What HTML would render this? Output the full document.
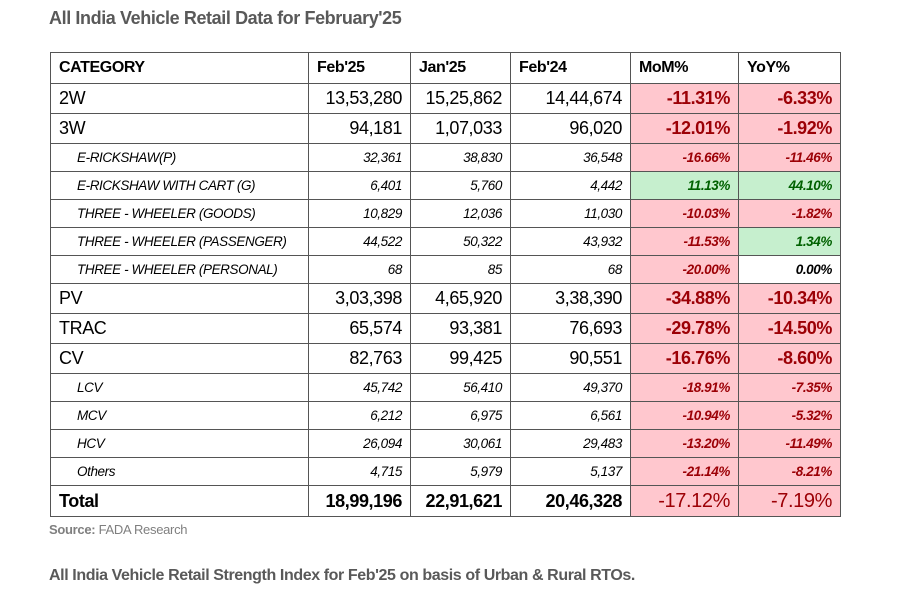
<!DOCTYPE html>
<html><head><meta charset="utf-8"><style>
body{margin:0;width:902px;height:600px;background:#fff;position:relative;overflow:hidden;font-family:"Liberation Sans",sans-serif;}
.t1{position:absolute;left:49px;top:8px;font-size:18px;font-weight:bold;color:#595959;letter-spacing:-0.4px;}
.src{position:absolute;left:49px;top:522px;font-size:13px;color:#7f7f7f;letter-spacing:-0.3px;}
.t2{position:absolute;left:49px;top:567px;font-size:16px;font-weight:bold;color:#595959;letter-spacing:-0.4px;}
table{position:absolute;left:50px;top:52px;border-collapse:collapse;table-layout:fixed;width:790px;}
td{border:1px solid #555;padding:0 8px;white-space:nowrap;overflow:hidden;text-align:right;color:#000;letter-spacing:-0.4px;}
td:first-child{text-align:left;}
tr.h td{height:30px;font-weight:bold;font-size:16px;text-align:left;}
tr.m td{height:29px;font-size:18px;}
tr.s td{height:27px;font-size:13.5px;font-style:italic;}
tr.s td:first-child{padding-left:26px;}
tr.tot td{height:30px;font-size:18px;font-weight:bold;}
.r{background:#ffc7ce;color:#9c0006;}
tr.m .r{font-weight:bold;}
tr.tot .r{font-weight:normal;font-size:20px;}
tr.s .r,tr.s .g{font-weight:bold;}
.g{background:#c6efce;color:#006100;}
table{border:1.5px solid #444;}
</style></head><body>
<div class="t1">All India Vehicle Retail Data for February'25</div>
<table>
<colgroup><col style="width:258px"><col style="width:102px"><col style="width:100px"><col style="width:120px"><col style="width:108px"><col style="width:102px"></colgroup>
<tr class="h"><td>CATEGORY</td><td>Feb'25</td><td>Jan'25</td><td>Feb'24</td><td>MoM%</td><td>YoY%</td></tr>
<tr class="m"><td>2W</td><td>13,53,280</td><td>15,25,862</td><td>14,44,674</td><td class="r">-11.31%</td><td class="r">-6.33%</td></tr>
<tr class="m"><td>3W</td><td>94,181</td><td>1,07,033</td><td>96,020</td><td class="r">-12.01%</td><td class="r">-1.92%</td></tr>
<tr class="s"><td>E-RICKSHAW(P)</td><td>32,361</td><td>38,830</td><td>36,548</td><td class="r">-16.66%</td><td class="r">-11.46%</td></tr>
<tr class="s"><td>E-RICKSHAW WITH CART (G)</td><td>6,401</td><td>5,760</td><td>4,442</td><td class="g">11.13%</td><td class="g">44.10%</td></tr>
<tr class="s"><td>THREE - WHEELER (GOODS)</td><td>10,829</td><td>12,036</td><td>11,030</td><td class="r">-10.03%</td><td class="r">-1.82%</td></tr>
<tr class="s"><td>THREE - WHEELER (PASSENGER)</td><td>44,522</td><td>50,322</td><td>43,932</td><td class="r">-11.53%</td><td class="g">1.34%</td></tr>
<tr class="s"><td>THREE - WHEELER (PERSONAL)</td><td>68</td><td>85</td><td>68</td><td class="r">-20.00%</td><td style="font-weight:bold">0.00%</td></tr>
<tr class="m"><td>PV</td><td>3,03,398</td><td>4,65,920</td><td>3,38,390</td><td class="r">-34.88%</td><td class="r">-10.34%</td></tr>
<tr class="m"><td>TRAC</td><td>65,574</td><td>93,381</td><td>76,693</td><td class="r">-29.78%</td><td class="r">-14.50%</td></tr>
<tr class="m"><td>CV</td><td>82,763</td><td>99,425</td><td>90,551</td><td class="r">-16.76%</td><td class="r">-8.60%</td></tr>
<tr class="s"><td>LCV</td><td>45,742</td><td>56,410</td><td>49,370</td><td class="r">-18.91%</td><td class="r">-7.35%</td></tr>
<tr class="s"><td>MCV</td><td>6,212</td><td>6,975</td><td>6,561</td><td class="r">-10.94%</td><td class="r">-5.32%</td></tr>
<tr class="s"><td>HCV</td><td>26,094</td><td>30,061</td><td>29,483</td><td class="r">-13.20%</td><td class="r">-11.49%</td></tr>
<tr class="s"><td>Others</td><td>4,715</td><td>5,979</td><td>5,137</td><td class="r">-21.14%</td><td class="r">-8.21%</td></tr>
<tr class="tot"><td>Total</td><td>18,99,196</td><td>22,91,621</td><td>20,46,328</td><td class="r">-17.12%</td><td class="r">-7.19%</td></tr>
</table>
<div class="src"><b>Source:</b> FADA Research</div>
<div class="t2">All India Vehicle Retail Strength Index for Feb'25 on basis of Urban &amp; Rural RTOs.</div>
</body></html>
